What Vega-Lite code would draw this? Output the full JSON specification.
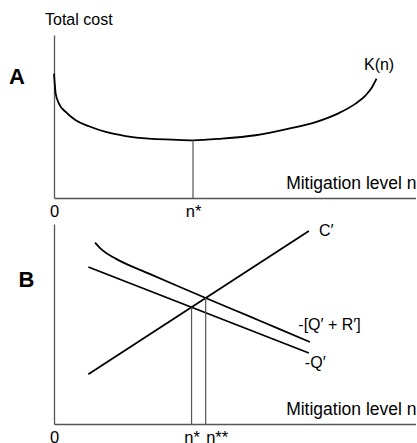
{
  "$schema": "https://vega.github.io/schema/vega-lite/v6.json",
  "padding": {"left": 8, "top": 12, "right": 0, "bottom": 0},
  "spacing": 26,
  "bounds": "flush",
  "config": {
    "view": {"stroke": null},
    "font": "Liberation Sans",
    "axis": {"domainColor": "#555555", "domainWidth": 1.3, "ticks": false, "grid": false, "labelFont": "Liberation Sans", "labelFontSize": 16.5, "labelColor": "black", "titleFont": "Liberation Sans", "titleColor": "black"},
    "text": {"font": "Liberation Sans", "fontSize": 16, "color": "black"}
  },
  "datasets": {
    "kcurve": [
      {"n": 0, "cost": 7.63}, {"n": 0.047, "cost": 6.40}, {"n": 0.138, "cost": 5.79}, {"n": 0.323, "cost": 5.28},
      {"n": 0.599, "cost": 4.77}, {"n": 0.967, "cost": 4.40}, {"n": 1.43, "cost": 4.05}, {"n": 1.98, "cost": 3.80},
      {"n": 2.62, "cost": 3.64}, {"n": 3.26, "cost": 3.58}, {"n": 3.84, "cost": 3.54}, {"n": 4.64, "cost": 3.64},
      {"n": 5.57, "cost": 3.85}, {"n": 6.49, "cost": 4.25}, {"n": 7.23, "cost": 4.66}, {"n": 7.87, "cost": 5.21},
      {"n": 8.33, "cost": 5.79}, {"n": 8.61, "cost": 6.30}, {"n": 8.79, "cost": 6.81}, {"n": 8.91, "cost": 7.32}
    ],
    "rulesA": [{"n": 3.84, "y0": 0, "y1": 3.54}],
    "labelsA": [{"n": 8.98, "v": 8.13, "label": "K(n)"}],
    "blines": [
      {"series": "C′", "n": 0.948, "v": 2.49}, {"series": "C′", "n": 7.04, "v": 9.65},
      {"series": "-Q′", "n": 0.948, "v": 7.85}, {"series": "-Q′", "n": 7.04, "v": 3.55},
      {"series": "-[Q′ + R′]", "n": 1.133, "v": 9.07}, {"series": "-[Q′ + R′]", "n": 1.334, "v": 8.69},
      {"series": "-[Q′ + R′]", "n": 1.704, "v": 8.27}, {"series": "-[Q′ + R′]", "n": 2.624, "v": 7.52},
      {"series": "-[Q′ + R′]", "n": 3.544, "v": 6.80}, {"series": "-[Q′ + R′]", "n": 4.19, "v": 6.30},
      {"series": "-[Q′ + R′]", "n": 5.387, "v": 5.39}, {"series": "-[Q′ + R′]", "n": 6.215, "v": 4.76},
      {"series": "-[Q′ + R′]", "n": 7.07, "v": 4.10}
    ],
    "rulesB": [{"n": 3.80, "y0": 0, "y1": 5.84}, {"n": 4.19, "y0": 0, "y1": 6.30}],
    "labelsB": [
      {"n": 7.32, "v": 9.65, "label": "C′"},
      {"n": 6.75, "v": 4.95, "label": "-[Q′ + R′]"},
      {"n": 6.93, "v": 3.05, "label": "-Q′"}
    ]
  },
  "vconcat": [
    {
      "width": 362,
      "height": 163,
      "title": {"text": "Total cost", "anchor": "start", "frame": "group", "fontSize": 16, "fontWeight": "normal", "font": "Liberation Sans", "color": "black", "dx": -9, "baseline": "alphabetic", "offset": -6},
      "layer": [
        {
          "data": {"name": "kcurve"},
          "mark": {"type": "line", "color": "black", "strokeWidth": 1.8, "interpolate": "monotone"},
          "encoding": {
            "x": {"field": "n", "type": "quantitative", "scale": {"domain": [0, 10], "nice": false, "zero": false},
              "axis": {"values": [0, 3.84], "labelExpr": "datum.value == 0 ? '0' : 'n*'", "labelFlush": false, "labelPadding": 5, "labelOverlap": false,
                "title": "Mitigation level n", "titleAnchor": "end", "titleAlign": "right", "titleX": 362, "titleY": -10, "titleBaseline": "alphabetic", "titleFontSize": 17.5, "titleFontWeight": "normal"}},
            "y": {"field": "cost", "type": "quantitative", "scale": {"domain": [0, 10], "nice": false},
              "axis": {"labels": false, "title": "A", "titleAngle": 0, "titleFontWeight": "bold", "titleFontSize": 22, "titleX": -37.5, "titleY": 41, "titleAlign": "center", "titleBaseline": "middle"}}
          }
        },
        {
          "data": {"name": "rulesA"},
          "mark": {"type": "rule", "color": "#555555", "strokeWidth": 1.2},
          "encoding": {"x": {"field": "n", "type": "quantitative"}, "y": {"field": "y0", "type": "quantitative"}, "y2": {"field": "y1"}}
        },
        {
          "data": {"name": "labelsA"},
          "mark": {"type": "text", "align": "center", "baseline": "middle"},
          "encoding": {"x": {"field": "n", "type": "quantitative"}, "y": {"field": "v", "type": "quantitative"}, "text": {"field": "label"}}
        }
      ]
    },
    {
      "width": 362,
      "height": 200,
      "layer": [
        {
          "data": {"name": "blines"},
          "mark": {"type": "line", "color": "black", "strokeWidth": 1.8, "interpolate": "monotone"},
          "encoding": {
            "detail": {"field": "series"},
            "x": {"field": "n", "type": "quantitative", "scale": {"domain": [0, 10], "nice": false, "zero": false},
              "axis": {"values": [0, 3.80, 4.19], "labelExpr": "datum.value == 0 ? '0' : (datum.value < 4 ? 'n*' : 'n**')", "labelFlush": false, "labelPadding": 5, "labelOverlap": false,
                "labelAlign": {"condition": {"test": "datum.value > 4", "value": "left"}, "value": "center"},
                "title": "Mitigation level n", "titleAnchor": "end", "titleAlign": "right", "titleX": 362, "titleY": -10, "titleBaseline": "alphabetic", "titleFontSize": 17.5, "titleFontWeight": "normal"}},
            "y": {"field": "v", "type": "quantitative", "scale": {"domain": [0, 10], "nice": false},
              "axis": {"labels": false, "title": "B", "titleAngle": 0, "titleFontWeight": "bold", "titleFontSize": 22, "titleX": -28, "titleY": 55.5, "titleAlign": "center", "titleBaseline": "middle"}}
          }
        },
        {
          "data": {"name": "rulesB"},
          "mark": {"type": "rule", "color": "#555555", "strokeWidth": 1.2},
          "encoding": {"x": {"field": "n", "type": "quantitative"}, "y": {"field": "y0", "type": "quantitative"}, "y2": {"field": "y1"}}
        },
        {
          "data": {"name": "labelsB"},
          "mark": {"type": "text", "align": "left", "baseline": "middle"},
          "encoding": {"x": {"field": "n", "type": "quantitative"}, "y": {"field": "v", "type": "quantitative"}, "text": {"field": "label"}}
        }
      ]
    }
  ]
}
